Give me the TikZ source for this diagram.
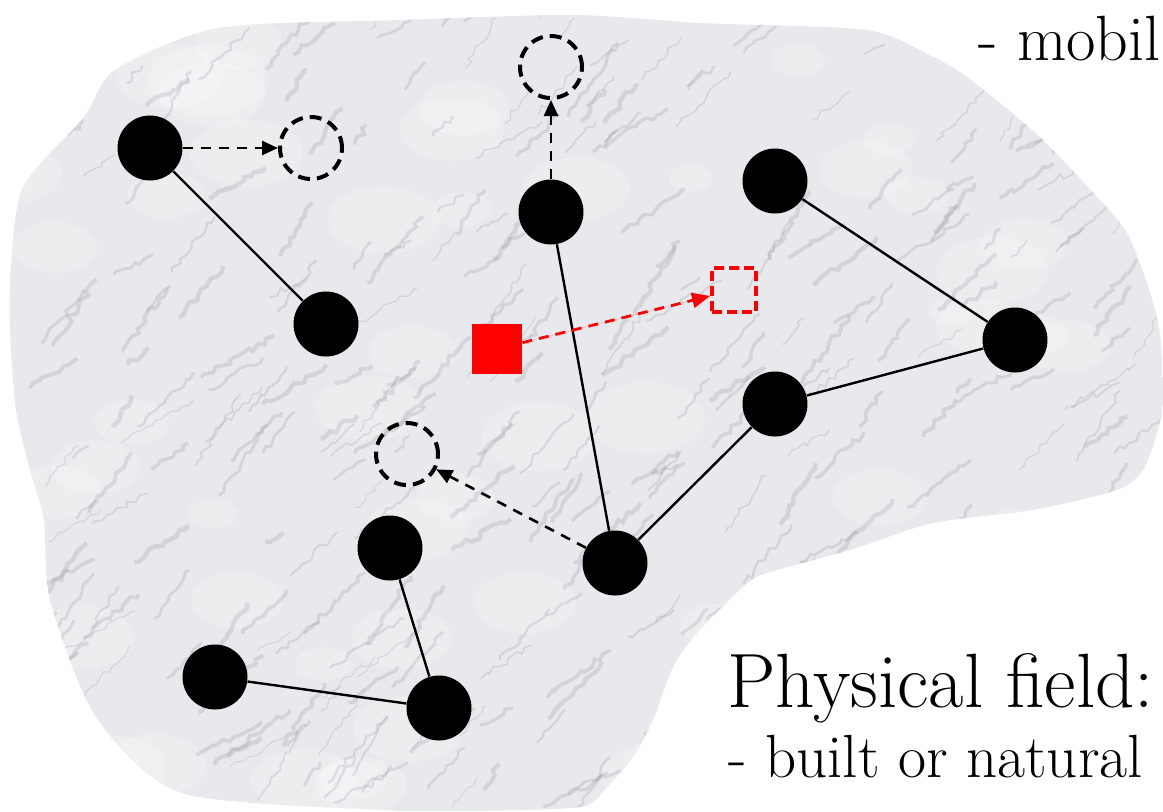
\documentclass[tikz,border=0pt]{standalone}
\usetikzlibrary{arrows.meta,decorations.pathmorphing}
\definecolor{marble}{RGB}{232,233,237}
\definecolor{veincol}{RGB}{120,122,130}
\definecolor{redmark}{RGB}{255,0,0}
\tikzset{
  agent/.style={circle,fill=black,minimum size=32.5pt,inner sep=0pt},
  ghost/.style={circle,draw=black,line width=2pt,dash pattern=on 6pt off 3.5pt,minimum size=31pt,inner sep=0pt},
  link/.style={line width=1.2pt},
  move/.style={line width=1.3pt,dash pattern=on 5pt off 4pt,-{Triangle[length=8pt,width=7pt]}},
  redmove/.style={line width=1.4pt,draw=redmark,fill=redmark,dash pattern=on 5pt off 3.5pt,-{Triangle[length=9pt,width=7.5pt]}},
  token/.style={fill=redmark,minimum size=25pt,inner sep=0pt},
  redghost/.style={draw=redmark,line width=2pt,dash pattern=on 5pt off 2.5pt,minimum size=22pt,inner sep=0pt},
  txt/.style={anchor=base west,inner sep=0pt},
  vein/.style={draw=veincol,opacity=0.18,decorate,decoration={random steps,segment length=3pt,amplitude=1.5pt}}
}
\begin{document}
\begin{tikzpicture}[x=0.5pt,y=-0.5pt]
\useasboundingbox (0,0) rectangle (1163,811);
\fill[white] (0,0) rectangle (1163,811);
% marble field
\begin{scope}
\clip plot[smooth cycle,tension=0.45] coordinates {
 (11,267) (23,187) (84,117) (115,70) (218,28) (400,20) (574,15) (700,23)
 (867,30) (933,57) (967,77) (1017,117) (1050,147) (1100,200) (1127,233)
 (1147,283) (1160,333) (1163,400) (1157,433) (1143,470) (1117,490)
 (1033,510) (933,523) (850,550) (767,573) (743,587) (697,633) (673,667)
 (653,720) (633,757) (607,787) (580,807) (470,811) (383,810) (182,793)
 (96,717) (50,600) (44,520) (30,470) (16,410) (10,330)};
\fill[marble] (0,0) rectangle (1163,811);
\pgfmathsetseed{12}
\foreach \i in {1,...,70}{
  \pgfmathsetmacro\px{rnd*1163}
  \pgfmathsetmacro\py{rnd*811}
  \pgfmathsetmacro\rw{20+rnd*40}
  \fill[white,opacity=0.22] (\px,\py) ellipse[x radius=\rw, y radius=0.6*\rw];
}
\foreach \i in {1,...,320}{
  \pgfmathsetmacro\px{rnd*1163}
  \pgfmathsetmacro\py{rnd*811}
  \pgfmathsetmacro\ang{-25-rnd*35}
  \pgfmathsetmacro\len{20+rnd*70}
  \pgfmathsetmacro\lw{0.5+rnd*1.8}
  \draw[vein,line width=\lw pt] (\px,\py) -- ++(\ang:\len);
}
\end{scope}
% agents
\node[agent] (a1) at (150,148) {};
\node[agent] (a2) at (326,324) {};
\node[agent] (a3) at (551,212) {};
\node[agent] (a4) at (775,181) {};
\node[agent] (a5) at (1015,340) {};
\node[agent] (a6) at (775,404) {};
\node[agent] (a7) at (615,563) {};
\node[agent] (a8) at (390,548) {};
\node[agent] (a9) at (439,708) {};
\node[agent] (a10) at (215,677) {};
% ghost positions
\node[ghost] (g1) at (311,148) {};
\node[ghost] (g2) at (551,67) {};
\node[ghost] (g3) at (407,454) {};
% red token
\node[token] (t1) at (497,349) {};
\node[redghost] (t2) at (734,290) {};
% links
\draw[link] (a1) -- (a2);
\draw[link] (a3) -- (a7);
\draw[link] (a4) -- (a5);
\draw[link] (a5) -- (a6);
\draw[link] (a6) -- (a7);
\draw[link] (a8) -- (a9);
\draw[link] (a10) -- (a9);
% moves
\draw[move] (a1) -- (g1);
\draw[move] (a3) -- (g2);
\draw[move] (a7) -- (g3);
\draw[redmove] (t1) -- (t2);
% text
\node[txt,font=\fontsize{32}{34}\selectfont] (mob) at (978,60) {- mobil};
\node[txt,font=\fontsize{38.5}{41}\selectfont] (phys) at (727,707) {Physical field:};
\node[txt,font=\fontsize{30.5}{33}\selectfont] (built) at (728,777) {- built or natural};
\end{tikzpicture}
\end{document}
